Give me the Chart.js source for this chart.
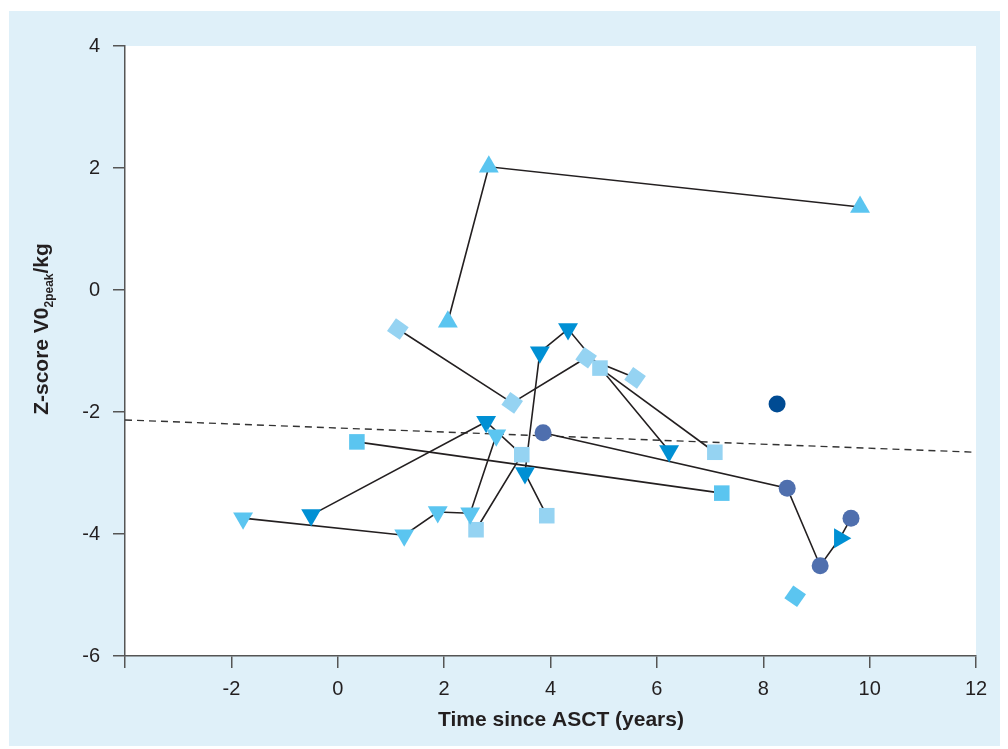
<!DOCTYPE html>
<html lang="en">
<head>
<meta charset="UTF-8">
<title>Z-score VO2peak/kg vs time since ASCT</title>
<script src="https://cdn.jsdelivr.net/npm/chart.js@4.4.0/dist/chart.umd.min.js"></script>
<style>
  html, body { margin: 0; padding: 0; background: #fff; }
  .panel { position: absolute; left: 9px; top: 11px; width: 991px; height: 735px; background: #dff0f9; }
  canvas { display: block; }
</style>
</head>
<body>
<div class="panel"><canvas id="chart" width="991" height="735"></canvas></div>
<script>
/************  DATA  ************/
// axis ticks
const xTicks = [-4, -2, 0, 2, 4, 6, 8, 10, 12];
const yTicks = [-6, -4, -2, 0, 2, 4];

// marker groups (time since ASCT in years, z-score)
const upTriX = [2.07, 2.84, 9.82];
const upTriY = [-0.52, 2.02, 1.36];
const downTriLightX = [-1.78, 1.25, 1.88, 2.49, 2.98];
const downTriLightY = [-3.74, -4.02, -3.64, -3.66, -2.38];
const downTriDarkX = [-0.50, 2.79, 3.52, 3.80, 4.33, 6.23];
const downTriDarkY = [-3.69, -2.16, -3.00, -1.02, -0.64, -2.64];
const rightTriX = [9.44];
const rightTriY = [-4.07];
const squarePaleX = [2.60, 3.46, 3.93, 4.93, 7.09];
const squarePaleY = [-3.93, -2.70, -3.70, -1.28, -2.66];
const squareX = [0.36, 7.22];
const squareY = [-2.49, -3.33];
const diamondPaleX = [1.13, 3.28, 4.67, 5.59];
const diamondPaleY = [-0.64, -1.85, -1.11, -1.44];
const diamondX = [8.60];
const diamondY = [-5.02];
const circleX = [3.86, 8.45, 9.07, 9.65];
const circleY = [-2.34, -3.25, -4.52, -3.74];
const circleDarkX = [8.26];
const circleDarkY = [-1.87];

// follow-up lines joining repeated measurements
const trackAX = [2.07, 2.84, 9.82];
const trackAY = [-0.52, 2.02, 1.36];
const trackBX = [-1.78, 1.25, 1.88, 2.49, 2.98];
const trackBY = [-3.74, -4.02, -3.64, -3.66, -2.38];
const trackCX = [-0.50, 2.79, 3.46, 2.60];
const trackCY = [-3.69, -2.16, -2.70, -3.93];
const trackDX = [3.93, 3.52, 3.80, 4.33, 6.23];
const trackDY = [-3.70, -3.00, -1.02, -0.64, -2.64];
const trackEX = [1.13, 3.28, 4.67, 5.59];
const trackEY = [-0.64, -1.85, -1.11, -1.44];
const trackFX = [4.93, 7.09];
const trackFY = [-1.28, -2.66];
const trackGX = [0.36, 7.22];
const trackGY = [-2.49, -3.33];
const trackHX = [3.86, 8.45, 9.07, 9.44, 9.65];
const trackHY = [-2.34, -3.25, -4.52, -4.07, -3.74];

// regression line
const trendX = [-4, 12];
const trendY = [-2.13, -2.66];

/************  HELPERS  ************/
const FONT = '"Liberation Sans", Arial, Helvetica, sans-serif';
const pts = (xs, ys) => xs.map((x, i) => ({ x: x, y: ys[i] }));

function markers(xs, ys, style, color, radius, rotation) {
    return {
        data: pts(xs, ys),
        showLine: false,
        pointStyle: style,
        pointRadius: radius,
        pointHoverRadius: radius,
        pointRotation: rotation || 0,
        pointBackgroundColor: color,
        pointBorderWidth: 0,
        pointBorderColor: color,
        order: 0
    };
}

function track(xs, ys) {
    return {
        data: pts(xs, ys),
        showLine: true,
        borderColor: '#231f20',
        borderWidth: 1.6,
        pointRadius: 0,
        tension: 0,
        order: 2
    };
}

/************  PLUGINS  ************/
const plotBg = {
    id: 'plotBg',
    beforeDraw(chart) {
        const { ctx, chartArea: a } = chart;
        ctx.save();
        ctx.fillStyle = '#ffffff';
        ctx.fillRect(a.left, a.top, a.right - a.left, a.bottom - a.top);
        ctx.restore();
    }
};

const axisTitles = {
    id: 'axisTitles',
    afterDraw(chart) {
        const ctx = chart.ctx;
        ctx.save();
        ctx.fillStyle = '#231f20';
        ctx.textBaseline = 'alphabetic';

        // x title
        ctx.font = 'bold 21px ' + FONT;
        ctx.textAlign = 'center';
        ctx.fillText('Time since ASCT (years)', 552, 715);

        // y title with subscript
        const big = 'bold 21px ' + FONT;
        const small = 'bold 12px ' + FONT;
        const parts = [['Z-score V0', big, 0], ['2peak', small, 5], ['/kg', big, 0]];
        let total = 0;
        parts.forEach(p => { ctx.font = p[1]; p.push(ctx.measureText(p[0]).width); total += p[3]; });
        ctx.translate(39, 318);
        ctx.rotate(-Math.PI / 2);
        ctx.textAlign = 'left';
        let x = -total / 2;
        parts.forEach(p => { ctx.font = p[1]; ctx.fillText(p[0], x, p[2]); x += p[3]; });
        ctx.restore();
    }
};

/************  CHART  ************/
const datasets = [
    markers(upTriX, upTriY, 'triangle', '#5bc5f0', 11.5, 0),
    markers(downTriLightX, downTriLightY, 'triangle', '#5bc5f0', 11.5, 180),
    markers(downTriDarkX, downTriDarkY, 'triangle', '#0090d4', 11.5, 180),
    markers(rightTriX, rightTriY, 'triangle', '#0090d4', 11.5, 90),
    markers(squarePaleX, squarePaleY, 'rect', '#95d3f2', 11, 0),
    markers(squareX, squareY, 'rect', '#5bc5f0', 11, 0),
    markers(diamondPaleX, diamondPaleY, 'rect', '#95d3f2', 11, 35),
    markers(diamondX, diamondY, 'rect', '#5bc5f0', 11, 35),
    markers(circleX, circleY, 'circle', '#4f6fae', 8.5, 0),
    markers(circleDarkX, circleDarkY, 'circle', '#004b93', 8.5, 0),
    track(trackAX, trackAY),
    track(trackBX, trackBY),
    track(trackCX, trackCY),
    track(trackDX, trackDY),
    track(trackEX, trackEY),
    track(trackFX, trackFY),
    track(trackGX, trackGY),
    track(trackHX, trackHY),
    {
        data: pts(trendX, trendY),
        showLine: true,
        borderColor: '#333333',
        borderWidth: 1.4,
        borderDash: [7, 5],
        pointRadius: 0,
        order: 3
    }
];

new Chart(document.getElementById('chart'), {
    type: 'scatter',
    data: { datasets: datasets },
    options: {
        responsive: false,
        animation: false,
        layout: { padding: { top: 35, right: 24, bottom: 0, left: 0 } },
        plugins: { legend: { display: false }, tooltip: { enabled: false } },
        scales: {
            x: {
                type: 'linear',
                min: xTicks[0],
                max: xTicks[xTicks.length - 1],
                afterBuildTicks: s => { s.ticks = xTicks.map(v => ({ value: v })); },
                afterFit: s => { s.height = 90; },
                ticks: {
                    autoSkip: false,
                    maxRotation: 0,
                    padding: 9,
                    color: '#231f20',
                    font: { family: FONT, size: 20 },
                    callback: v => (v === -4 ? '' : v)
                },
                grid: { drawOnChartArea: false, drawTicks: true, tickLength: 12, color: '#555', lineWidth: 1.5 },
                border: { display: true, color: '#555', width: 1.5 }
            },
            y: {
                type: 'linear',
                min: yTicks[0],
                max: yTicks[yTicks.length - 1],
                afterBuildTicks: s => { s.ticks = yTicks.map(v => ({ value: v })); },
                afterFit: s => { s.width = 116; },
                ticks: {
                    padding: 13,
                    color: '#231f20',
                    font: { family: FONT, size: 20 }
                },
                grid: { drawOnChartArea: false, drawTicks: true, tickLength: 12, color: '#555', lineWidth: 1.5 },
                border: { display: true, color: '#555', width: 1.5 }
            }
        }
    },
    plugins: [plotBg, axisTitles]
});
</script>
</body>
</html>
